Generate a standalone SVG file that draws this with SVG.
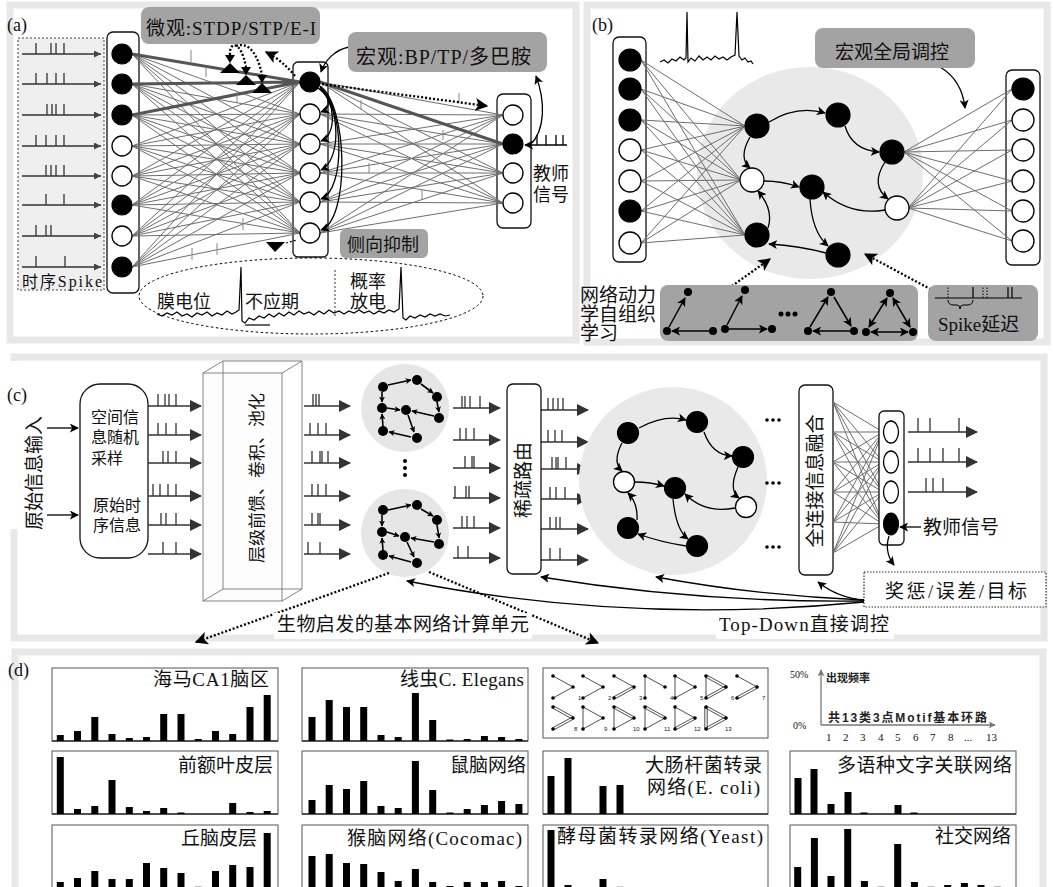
<svg xmlns="http://www.w3.org/2000/svg" width="1053" height="887" viewBox="0 0 1053 887">
<defs>
<style>
.fr{fill:#fff;stroke:#e8e8e8;stroke-width:7}
.bx{fill:#fff;stroke:#111;stroke-width:1.3}
.gb{fill:#a3a3a3}
.cn{stroke:#6e6e6e;stroke-width:1;fill:none}
.ck{stroke:#555;stroke-width:3;fill:none}
.nb{fill:#000;stroke:#000;stroke-width:1.2}
.nw{fill:#fff;stroke:#000;stroke-width:1.3}
.t{font-family:"Liberation Serif","Noto Sans CJK SC",serif;fill:#111}
.s{font-family:"Liberation Sans","Noto Sans CJK SC",sans-serif;fill:#222}
.ar{fill:none;stroke:#000;stroke-width:1.3}
.dt{fill:none;stroke:#000;stroke-width:2.3;stroke-dasharray:2 2}
.sp{stroke:#333;stroke-width:1.3;fill:none}
.tk{stroke:#888;stroke-width:1;fill:none}
.bar{fill:#000}
.ch{fill:#fff;stroke:#555;stroke-width:1}
.mo{stroke:#222;stroke-width:0.8;fill:none}
</style>
<marker id="ah" viewBox="0 0 10 10" refX="9" refY="5" markerWidth="9" markerHeight="9" markerUnits="userSpaceOnUse" orient="auto-start-reverse"><path d="M0,0 L10,5 L0,10 L2.5,5z" fill="#000"/></marker>
<marker id="ahL" viewBox="0 0 10 10" refX="9" refY="5" markerWidth="13" markerHeight="13" markerUnits="userSpaceOnUse" orient="auto"><path d="M0,0 L10,5 L0,10 L2.5,5z" fill="#000"/></marker>
<marker id="ms" viewBox="0 0 10 10" refX="9" refY="5" markerWidth="6" markerHeight="6" markerUnits="userSpaceOnUse" orient="auto"><path d="M0,0 L10,5 L0,10 L2.5,5z" fill="#000"/></marker>
<marker id="sp" viewBox="0 0 12 12" refX="11" refY="6" markerWidth="12" markerHeight="12" markerUnits="userSpaceOnUse" orient="auto"><path d="M0,0 L12,6 L0,12z" fill="#333"/></marker>
<marker id="sa" viewBox="0 0 8 8" refX="8" refY="4" markerWidth="7" markerHeight="7" markerUnits="userSpaceOnUse" orient="auto"><path d="M0,0 L8,4 L0,8z" fill="#444"/></marker>
<marker id="ag" viewBox="0 0 10 10" refX="9" refY="5" markerWidth="7" markerHeight="7" markerUnits="userSpaceOnUse" orient="auto"><path d="M0,0 L10,5 L0,10 L2.5,5z" fill="#777"/></marker>
<path id="e1" d="M0,0 L20,11"/>
<path id="e1d" d="M-0.6,1 L19.4,12 M0.6,-1 L20.6,10"/>
<path id="e2" d="M0,22 L20,11"/>
<path id="e2d" d="M0.6,23 L20.6,12 M-0.6,21 L19.4,10"/>
<path id="e3" d="M0,0 L0,22"/>
<path id="e3d" d="M-1.2,0 L-1.2,22 M1.2,0 L1.2,22"/>
<g id="dots" fill="#000"><circle cx="0" cy="0" r="1.8"/><circle cx="20" cy="11" r="1.8"/><circle cx="0" cy="22" r="1.8"/></g>
</defs>
<rect width="1053" height="887" fill="#fff"/>

<g id="frames">
<rect class="fr" x="10" y="5" width="566" height="335"/>
<rect class="fr" x="587" y="5" width="460" height="337"/>
<rect class="fr" x="14" y="357" width="1030" height="281"/>
<rect class="fr" x="15" y="652" width="1028" height="240"/>
<rect x="9" y="361" width="36" height="168" fill="#fff"/>
</g>

<!-- ================= PANEL A ================= -->
<g id="panel-a">
<text class="t" x="7" y="31" font-size="18">(a)</text>
<g id="a-input-spikes">
<rect x="18" y="38" width="86" height="252" fill="#efefef" stroke="#444" stroke-width="1" stroke-dasharray="2 2"/>
<g class="sp" stroke="#555" stroke-width="1">
<line x1="22" y1="54" x2="101" y2="54" marker-end="url(#sa)"/>
<line x1="22" y1="84" x2="101" y2="84" marker-end="url(#sa)"/>
<line x1="22" y1="115" x2="101" y2="115" marker-end="url(#sa)"/>
<line x1="22" y1="146" x2="101" y2="146" marker-end="url(#sa)"/>
<line x1="22" y1="176" x2="101" y2="176" marker-end="url(#sa)"/>
<line x1="22" y1="205" x2="101" y2="205" marker-end="url(#sa)"/>
<line x1="22" y1="236" x2="101" y2="236" marker-end="url(#sa)"/>
<line x1="22" y1="267" x2="101" y2="267" marker-end="url(#sa)"/>
<path d="M36,54v-11M51,54v-11M56,54v-11M64,54v-11 M36,84v-11M47,84v-11M56,84v-11M64,84v-11 M47,115v-11M52,115v-11M56,115v-11M64,115v-11 M36,146v-11M46,146v-11M56,146v-11M64,146v-11 M46,176v-11M51,176v-11M56,176v-11M64,176v-11 M46,205v-11M64,205v-11 M36,236v-11M46,236v-11M51,236v-11 M36,267v-11M65,267v-11"/>
</g>
<text class="t" x="22" y="287" font-size="16" textLength="80">时序Spike</text>
</g>
<g id="a-boxes">
<rect class="bx" x="107" y="32" width="32" height="261" rx="6"/>
<rect class="bx" x="293" y="62" width="35" height="195" rx="5"/>
<rect class="bx" x="497" y="94" width="34" height="134" rx="6"/>
</g>
<g id="a-connectors">
<path class="cn" d="M132 54L300 82M132 54L300 114M132 54L300 144M132 54L300 173M132 54L300 202M132 54L300 233
M132 84L300 82M132 84L300 114M132 84L300 144M132 84L300 173M132 84L300 202M132 84L300 233
M132 115L300 82M132 115L300 114M132 115L300 144M132 115L300 173M132 115L300 202M132 115L300 233
M132 146L300 82M132 146L300 114M132 146L300 144M132 146L300 173M132 146L300 202M132 146L300 233
M132 176L300 82M132 176L300 114M132 176L300 144M132 176L300 173M132 176L300 202M132 176L300 233
M132 205L300 82M132 205L300 114M132 205L300 144M132 205L300 173M132 205L300 202M132 205L300 233
M132 236L300 82M132 236L300 114M132 236L300 144M132 236L300 173M132 236L300 202M132 236L300 233
M132 267L300 82M132 267L300 114M132 267L300 144M132 267L300 173M132 267L300 202M132 267L300 233
M320 82L503 115M320 82L503 144M320 82L503 173M320 82L503 203
M320 114L503 115M320 114L503 144M320 114L503 173M320 114L503 203
M320 144L503 115M320 144L503 144M320 144L503 173M320 144L503 203
M320 173L503 115M320 173L503 144M320 173L503 173M320 173L503 203
M320 202L503 115M320 202L503 144M320 202L503 173M320 202L503 203
M320 233L503 115M320 233L503 144M320 233L503 173M320 233L503 203"/>
<path class="ck" d="M132 54L300 82M132 84L300 82M132 115L300 82M320 82L503 144"/>
<path class="tk" d="M191,50v12M206,67v10M237,92v10M361,100v10M459,93v10M443,130v10M369,163v10M422,190v10M243,218v12M217,243v12M192,248v12"/>
<!-- synapse bow-ties -->
<g fill="#000">
<polygon points="220,73 240,73 230,63"/><polygon points="225,55 235,55 230,63"/>
<polygon points="236,85 256,85 246,75"/><polygon points="241,67 251,67 246,75"/>
<polygon points="252,93 272,93 262,83"/><polygon points="257,75 267,75 262,83"/>
</g>
<path class="dt" d="M230,55 C229,41 241,40 246,67"/>
<path class="dt" d="M236,46 C249,41 258,55 262,75"/>
<path class="dt" d="M295,76 Q282,60 266,52" marker-end="url(#ahL)"/>
<path class="dt" d="M322,84 L487,106" marker-end="url(#ahL)"/>
<!-- recurrent arcs -->
<path class="ar" d="M318,88 C330,95 332,108 321,112" marker-end="url(#ah)"/>
<path class="ar" d="M319,89 C336,100 337,135 321,141" marker-end="url(#ah)"/>
<path class="ar" d="M320,88 C340,105 342,160 321,170" marker-end="url(#ah)"/>
<path class="ar" d="M320,87 C344,105 346,190 321,199" marker-end="url(#ah)"/>
<path class="ar" d="M320,86 C348,105 350,220 321,230" marker-end="url(#ah)"/>
<path class="ar" d="M349,47 C335,50 325,60 321,72" marker-end="url(#ah)"/>
<path class="ar" d="M530,145 C546,130 545,100 536,76" marker-end="url(#ah)"/>
<!-- teacher spike into output node -->
<line x1="567" y1="145" x2="525" y2="145" class="ar" marker-end="url(#ah)"/>
<path class="ar" d="M537,145v-10M546,145v-10M556,145v-10M563,145v-10"/>
<!-- lateral inhibition -->
<polygon points="266,242 285,242 275,252" fill="#000"/>
<path d="M286,243 L297,240" stroke="#000" stroke-width="1.2" stroke-dasharray="2 2"/>
</g>
<g id="a-nodes">
<circle class="nb" cx="122" cy="54" r="10"/><circle class="nb" cx="122" cy="84" r="10"/><circle class="nb" cx="122" cy="115" r="10"/>
<circle class="nw" cx="122" cy="146" r="10"/><circle class="nw" cx="122" cy="176" r="10"/><circle class="nb" cx="122" cy="205" r="10"/>
<circle class="nw" cx="122" cy="236" r="10"/><circle class="nb" cx="122" cy="267" r="10"/>
<circle class="nb" cx="310" cy="82" r="10"/><circle class="nw" cx="310" cy="114" r="10"/><circle class="nw" cx="310" cy="144" r="10"/>
<circle class="nw" cx="310" cy="173" r="10"/><circle class="nw" cx="310" cy="202" r="10"/><circle class="nw" cx="310" cy="233" r="10"/>
<circle class="nw" cx="513" cy="115" r="10"/><circle class="nb" cx="513" cy="144" r="10"/><circle class="nw" cx="513" cy="173" r="10"/><circle class="nw" cx="513" cy="203" r="10"/>
</g>
<g id="a-labels">
<rect class="gb" x="141" y="7" width="179" height="37" rx="8"/>
<text class="t" x="146" y="35" font-size="19" textLength="170">微观:STDP/STP/E-I</text>
<rect class="gb" x="348" y="32" width="199" height="40" rx="8"/>
<text class="t" x="356" y="64" font-size="20" textLength="175">宏观:BP/TP/多巴胺</text>
<text class="t" x="533" y="180" font-size="18">教师</text>
<text class="t" x="533" y="201" font-size="18">信号</text>
<rect class="gb" x="340" y="229" width="88" height="29" rx="6"/>
<text class="t" x="347" y="251" font-size="18">侧向抑制</text>
</g>
<g id="a-membrane">
<ellipse cx="311" cy="296" rx="172" ry="38" fill="none" stroke="#000" stroke-width="1" stroke-dasharray="2.5 2.5"/>
<line x1="335" y1="270" x2="335" y2="317" stroke="#333" stroke-width="1" stroke-dasharray="2 2"/>
<text class="t" x="157" y="308" font-size="18">膜电位</text>
<text class="t" x="245" y="308" font-size="18">不应期</text>
<text class="t" x="350" y="288" font-size="18">概率</text>
<text class="t" x="350" y="308" font-size="18">放电</text>
<polyline fill="none" stroke="#000" stroke-width="1.2" points="157,314 162,316 167,313 172,315 177,312 182,316 187,314 192,317 197,313 202,315 207,312 212,316 217,313 222,315 227,311 232,314 236,312 239,310 241,267 242,321 245,323 249,318 254,320 259,316 264,318 269,314 274,317 279,313 284,316 289,312 294,315 299,311 304,314 309,312 314,315 319,311 324,314 329,310 334,313 339,311 344,314 349,311 354,313 359,310 364,313 369,311 374,314 379,311 384,313 389,310 394,312 399,309 401,267 403,318 406,320 410,316 415,318 420,315 425,317 430,314 435,316 440,314 445,316 450,315"/>
<line x1="245" y1="325" x2="270" y2="325" stroke="#000" stroke-width="1.2"/>
</g>
</g>

<!-- ================= PANEL B ================= -->
<g id="panel-b">
<text class="t" x="592" y="31" font-size="18">(b)</text>
<polyline fill="none" stroke="#000" stroke-width="1.2" points="660,62 664,60 668,63 672,59 676,61 680,57 684,60 686,58 687,12 688,62 691,58 695,61 699,56 703,60 707,57 711,60 715,56 719,59 723,57 727,60 731,57 735,55 737,12 739,56 742,60 745,58 748,62 751,61 753,64"/>
<ellipse cx="810" cy="173" rx="113" ry="106" fill="#e9e9e9"/>
<rect class="bx" x="613" y="37" width="33" height="225" rx="6"/>
<rect class="bx" x="1006" y="70" width="34" height="195" rx="6"/>
<g id="b-connectors">
<path class="cn" d="M641 60L745 126M641 60L741 180M641 60L745 235
M641 89L745 126M641 89L741 180M641 89L745 235
M641 120L745 126M641 120L741 180M641 120L745 235
M641 150L745 126M641 150L741 180M641 150L745 235
M641 181L745 126M641 181L741 180M641 181L745 235
M641 211L745 126M641 211L741 180M641 211L745 235
M641 243L745 126M641 243L741 180M641 243L745 235
M904 152L1012 89M904 152L1012 120M904 152L1012 150M904 152L1012 181M904 152L1012 211M904 152L1012 241
M908 208L1012 89M908 208L1012 120M908 208L1012 150M908 208L1012 181M908 208L1012 211M908 208L1012 241"/>
<path class="ar" d="M769,122 Q797,105 825,113" marker-end="url(#ah)"/>
<path class="ar" d="M845,126 Q852,150 879,152" marker-end="url(#ah)"/>
<path class="ar" d="M885,162 Q870,185 888,199" marker-end="url(#ah)"/>
<path class="ar" d="M750,137 Q738,158 750,168" marker-end="url(#ah)"/>
<path class="ar" d="M764,181 Q782,181 799,187" marker-end="url(#ah)"/>
<path class="ar" d="M885,210 Q850,216 823,192" marker-end="url(#ah)"/>
<path class="ar" d="M768,228 Q774,210 758,191" marker-end="url(#ah)"/>
<path class="ar" d="M810,199 Q812,232 828,246" marker-end="url(#ah)"/>
<path class="ar" d="M826,253 Q800,246 769,244" marker-end="url(#ah)"/>
<path class="ar" d="M940,67 Q962,80 965,108" marker-end="url(#ah)"/>
<path class="dt" d="M722,293 L770,259" marker-end="url(#ahL)"/>
<path class="dt" d="M945,297 L865,254" marker-end="url(#ahL)"/>
</g>
<g id="b-nodes">
<circle class="nb" cx="630" cy="60" r="11"/><circle class="nb" cx="630" cy="89" r="11"/><circle class="nb" cx="630" cy="120" r="11"/>
<circle class="nw" cx="630" cy="150" r="11"/><circle class="nw" cx="630" cy="181" r="11"/><circle class="nb" cx="630" cy="211" r="11"/><circle class="nw" cx="630" cy="243" r="11"/>
<circle class="nb" cx="1023" cy="89" r="11"/><circle class="nw" cx="1023" cy="120" r="11"/><circle class="nw" cx="1023" cy="150" r="11"/>
<circle class="nw" cx="1023" cy="181" r="11"/><circle class="nw" cx="1023" cy="211" r="11"/><circle class="nw" cx="1023" cy="241" r="11"/>
<circle class="nb" cx="757" cy="126" r="12"/><circle class="nb" cx="838" cy="115" r="12"/><circle class="nb" cx="892" cy="152" r="12"/>
<circle class="nw" cx="752" cy="180" r="12"/><circle class="nb" cx="812" cy="187" r="12"/><circle class="nw" cx="897" cy="208" r="12"/>
<circle class="nb" cx="757" cy="235" r="12"/><circle class="nb" cx="838" cy="255" r="12"/>
</g>
<g id="b-labels">
<rect class="gb" x="815" y="28" width="160" height="40" rx="8"/>
<text class="t" x="835" y="59" font-size="19">宏观全局调控</text>
<text class="t" x="580" y="302" font-size="19">网络动力</text>
<text class="t" x="580" y="321" font-size="19">学自组织</text>
<text class="t" x="580" y="340" font-size="19">学习</text>
</g>
<g id="b-motifs">
<rect class="gb" x="660" y="285" width="258" height="56" rx="8"/>
<g stroke="#000" stroke-width="1.5" fill="none">
<path d="M669,327 L685,298" marker-end="url(#ah)"/><path d="M709,331 L672,331" marker-end="url(#ah)"/>
<path d="M727,325 L742,296" marker-end="url(#ah)"/><path d="M729,329 L767,329" marker-end="url(#ah)"/>
<path d="M810,327 L828,297" marker-end="url(#ah)"/><path d="M834,297 L851,326" marker-end="url(#ah)"/><path d="M850,331 L813,331" marker-end="url(#ah)"/>
<path d="M869,327 L887,298" marker-start="url(#ah)" marker-end="url(#ah)"/><path d="M893,298 L910,327" marker-start="url(#ah)" marker-end="url(#ah)"/><path d="M871,332 L908,332" marker-start="url(#ah)" marker-end="url(#ah)"/>
</g>
<g fill="#000">
<circle cx="688" cy="292" r="4"/><circle cx="667" cy="331" r="4"/><circle cx="713" cy="331" r="4"/>
<circle cx="745" cy="290" r="4"/><circle cx="725" cy="329" r="4"/><circle cx="772" cy="329" r="4"/>
<circle cx="781" cy="314" r="2.5"/><circle cx="788" cy="314" r="2.5"/><circle cx="795" cy="314" r="2.5"/>
<circle cx="831" cy="292" r="4"/><circle cx="808" cy="331" r="4"/><circle cx="854" cy="331" r="4"/>
<circle cx="890" cy="293" r="4"/><circle cx="866" cy="332" r="4"/><circle cx="913" cy="332" r="4"/>
</g>
<rect class="gb" x="928" y="285" width="110" height="56" rx="8"/>
<path d="M935,298 H1022 M973,298v-11 M1008,298v-11 M1012,298v-11" stroke="#000" stroke-width="1.2" fill="none"/>
<path d="M948,298v-11 M983,298v-11 M987,298v-11" stroke="#000" stroke-width="1" stroke-dasharray="1.5 1.5" fill="none"/>
<path d="M948,300 Q948,305 954,305 L957,305 Q960,305 960,309 Q960,305 963,305 L967,305 Q973,305 973,300" stroke="#000" stroke-width="1" fill="none"/>
<text class="t" x="938" y="331" font-size="19">Spike延迟</text>
</g>
</g>

<!-- ================= PANEL C ================= -->
<g id="panel-c">
<text class="t" x="7" y="401" font-size="18">(c)</text>
<text class="t" transform="translate(35,473) rotate(-90)" y="6" text-anchor="middle" font-size="19">原始信息输入</text>
<line x1="47" y1="428" x2="78" y2="428" class="ar" stroke-width="1.6" marker-end="url(#ah)"/>
<line x1="47" y1="515" x2="78" y2="515" class="ar" stroke-width="1.6" marker-end="url(#ah)"/>
<g id="c-sampling">
<rect class="bx" x="80" y="384" width="68" height="174" rx="20"/>
<text class="t" x="91" y="423" font-size="16">空间信</text>
<text class="t" x="91" y="443" font-size="16">息随机</text>
<text class="t" x="91" y="464" font-size="16">采样</text>
<text class="t" x="93" y="511" font-size="16">原始时</text>
<text class="t" x="93" y="531" font-size="16">序信息</text>
</g>
<g id="c-spikes">
<g class="sp">
<line x1="148" y1="406" x2="201" y2="406" marker-end="url(#sp)"/><line x1="148" y1="435" x2="201" y2="435" marker-end="url(#sp)"/><line x1="148" y1="463" x2="201" y2="463" marker-end="url(#sp)"/>
<line x1="148" y1="496" x2="201" y2="496" marker-end="url(#sp)"/><line x1="148" y1="525" x2="201" y2="525" marker-end="url(#sp)"/><line x1="148" y1="554" x2="201" y2="554" marker-end="url(#sp)"/>
<path d="M158,406v-12M165,406v-12M169,406v-12M176,406v-12 M158,435v-12M166,435v-12M176,435v-12 M163,463v-12M168,463v-12M176,463v-12 M153,496v-12M160,496v-12M168,496v-12M176,496v-12 M161,525v-12M166,525v-12M176,525v-12 M163,554v-12M176,554v-12"/>
<line x1="304" y1="406" x2="350" y2="406" marker-end="url(#sp)"/><line x1="304" y1="435" x2="350" y2="435" marker-end="url(#sp)"/><line x1="304" y1="463" x2="350" y2="463" marker-end="url(#sp)"/>
<line x1="304" y1="496" x2="350" y2="496" marker-end="url(#sp)"/><line x1="304" y1="525" x2="350" y2="525" marker-end="url(#sp)"/><line x1="304" y1="554" x2="350" y2="554" marker-end="url(#sp)"/>
<path d="M313,406v-12M316,406v-12M319,406v-12 M310,435v-12M318,435v-12M326,435v-12 M312,463v-12M320,463v-12M322,463v-12M328,463v-12 M312,496v-12M318,496v-12M326,496v-12 M312,525v-12M318,525v-12M320,525v-12 M308,554v-12M320,554v-12"/>
<line x1="453" y1="408" x2="500" y2="408" marker-end="url(#sp)"/><line x1="453" y1="440" x2="500" y2="440" marker-end="url(#sp)"/><line x1="453" y1="468" x2="500" y2="468" marker-end="url(#sp)"/>
<line x1="453" y1="498" x2="500" y2="498" marker-end="url(#sp)"/><line x1="453" y1="528" x2="500" y2="528" marker-end="url(#sp)"/><line x1="453" y1="558" x2="500" y2="558" marker-end="url(#sp)"/>
<path d="M462,408v-12M465,408v-12M470,408v-12M480,408v-12 M460,440v-12M466,440v-12M474,440v-12 M465,468v-12M472,468v-12M474,468v-12 M455,498v-12M466,498v-12M469,498v-12 M462,528v-12M467,528v-12M474,528v-12 M458,558v-12M468,558v-12"/>
<line x1="541" y1="410" x2="588" y2="410" marker-end="url(#sp)"/><line x1="541" y1="442" x2="588" y2="442" marker-end="url(#sp)"/><line x1="541" y1="469" x2="588" y2="469" marker-end="url(#sp)"/>
<line x1="541" y1="499" x2="588" y2="499" marker-end="url(#sp)"/><line x1="541" y1="529" x2="588" y2="529" marker-end="url(#sp)"/><line x1="541" y1="560" x2="588" y2="560" marker-end="url(#sp)"/>
<path d="M548,410v-12M553,410v-12M558,410v-12M563,410v-12 M548,442v-12M555,442v-12M562,442v-12 M552,469v-12M556,469v-12M558,469v-12M566,469v-12 M550,499v-12M556,499v-12M565,499v-12 M550,529v-12M556,529v-12M560,529v-12 M550,560v-12M560,560v-12"/>
<line x1="908" y1="432" x2="977" y2="432" marker-end="url(#sp)"/><line x1="908" y1="462" x2="977" y2="462" marker-end="url(#sp)"/><line x1="908" y1="492" x2="977" y2="492" marker-end="url(#sp)"/>
<path d="M918,432v-14M930,432v-14M959,432v-14 M918,462v-14M930,462v-14M943,462v-14M959,462v-14 M926,492v-14M933,492v-14M943,492v-14"/>
</g>
</g>
<g id="c-hierarchy">
<rect x="203" y="373" width="79" height="228" fill="#fcfcfc" fill-opacity="0.6" stroke="#777" stroke-width="0.9"/>
<path d="M223,361 H302 V589 H223 Z M203,373 L223,361 M282,373 L302,361 M282,601 L302,589 M203,601 L223,589" fill="none" stroke="#777" stroke-width="0.9"/>
<text class="t" transform="translate(257,478) rotate(-90)" y="6" text-anchor="middle" font-size="17">层级前馈、卷积、池化</text>
</g>
<g id="c-modules">
<circle cx="405" cy="408" r="44" fill="#e6e6e6"/>
<circle cx="405" cy="533" r="44" fill="#e6e6e6"/>
<g fill="#000"><circle cx="405" cy="461" r="2"/><circle cx="405" cy="468" r="2"/><circle cx="405" cy="475" r="2"/></g>
<g stroke="#000" stroke-width="1.6" fill="none">
<path d="M388,385 L411,380" marker-end="url(#ms)"/><path d="M421,384 L433,393" marker-end="url(#ms)"/><path d="M437,402 L439,412" marker-end="url(#ms)"/>
<path d="M382,392 L382,402" marker-end="url(#ms)"/><path d="M387,408 L400,410" marker-end="url(#ms)"/><path d="M434,416 L412,411" marker-end="url(#ms)"/>
<path d="M383,426 L382,414" marker-end="url(#ms)"/><path d="M408,415 L414,432" marker-end="url(#ms)"/><path d="M411,437 L389,432" marker-end="url(#ms)"/>
<path d="M388,510 L411,505" marker-end="url(#ms)"/><path d="M421,509 L433,516" marker-end="url(#ms)"/><path d="M437,525 L439,538" marker-end="url(#ms)"/>
<path d="M382,515 L382,526" marker-end="url(#ms)"/><path d="M387,532 L399,536" marker-end="url(#ms)"/><path d="M434,542 L411,538" marker-end="url(#ms)"/>
<path d="M383,550 L382,538" marker-end="url(#ms)"/><path d="M407,542 L414,557" marker-end="url(#ms)"/><path d="M411,562 L389,556" marker-end="url(#ms)"/>
</g>
<g fill="#000">
<circle cx="383" cy="387" r="5"/><circle cx="417" cy="380" r="5"/><circle cx="437" cy="397" r="5"/><circle cx="382" cy="408" r="5"/>
<circle cx="406" cy="410" r="5"/><circle cx="439" cy="418" r="5"/><circle cx="383" cy="431" r="5"/><circle cx="417" cy="438" r="5"/>
<circle cx="383" cy="510" r="5"/><circle cx="417" cy="505" r="5"/><circle cx="437" cy="520" r="5"/><circle cx="382" cy="532" r="5"/>
<circle cx="405" cy="537" r="5"/><circle cx="439" cy="544" r="5"/><circle cx="383" cy="555" r="5"/><circle cx="417" cy="563" r="5"/>
</g>
</g>
<g id="c-sparse">
<rect class="bx" x="507" y="384" width="34" height="190" rx="6"/>
<text class="t" transform="translate(524,480) rotate(-90)" y="6" text-anchor="middle" font-size="19">稀疏路由</text>
</g>
<g id="c-circle">
<circle cx="673" cy="481" r="94" fill="#e9e9e9"/>
<g class="ar">
<path d="M639,428 Q665,414 686,420" marker-end="url(#ah)"/>
<path d="M704,432 Q712,455 732,456" marker-end="url(#ah)"/>
<path d="M738,467 Q728,490 739,498" marker-end="url(#ah)"/>
<path d="M622,443 Q612,462 622,471" marker-end="url(#ah)"/>
<path d="M635,482 Q650,482 664,486" marker-end="url(#ah)"/>
<path d="M735,508 Q705,514 685,494" marker-end="url(#ah)"/>
<path d="M637,520 Q638,503 628,493" marker-end="url(#ah)"/>
<path d="M673,499 Q676,530 688,539" marker-end="url(#ah)"/>
<path d="M686,546 Q660,542 638,534" marker-end="url(#ah)"/>
</g>
<circle class="nb" cx="628" cy="433" r="10.5"/><circle class="nb" cx="697" cy="422" r="10.5"/><circle class="nb" cx="743" cy="457" r="10.5"/>
<circle class="nw" cx="624" cy="482" r="10.5"/><circle class="nb" cx="675" cy="488" r="10.5"/><circle class="nw" cx="746" cy="507" r="10.5"/>
<circle class="nb" cx="628" cy="528" r="10.5"/><circle class="nb" cx="697" cy="546" r="10.5"/>
<g fill="#000"><circle cx="767" cy="420" r="1.8"/><circle cx="773" cy="420" r="1.8"/><circle cx="779" cy="420" r="1.8"/>
<circle cx="767" cy="483" r="1.8"/><circle cx="773" cy="483" r="1.8"/><circle cx="779" cy="483" r="1.8"/>
<circle cx="767" cy="547" r="1.8"/><circle cx="773" cy="547" r="1.8"/><circle cx="779" cy="547" r="1.8"/></g>
</g>
<g id="c-fusion">
<rect class="bx" x="799" y="385" width="34" height="190" rx="6"/>
<text class="t" transform="translate(816,481) rotate(-90)" y="6" text-anchor="middle" font-size="19">全连接信息融合</text>
<path class="cn" d="M833 402L883 432M833 402L883 462M833 402L883 492M833 402L883 524
M833 432L883 432M833 432L883 462M833 432L883 492M833 432L883 524
M833 462L883 432M833 462L883 462M833 462L883 492M833 462L883 524
M833 492L883 432M833 492L883 462M833 492L883 492M833 492L883 524
M833 522L883 432M833 522L883 462M833 522L883 492M833 522L883 524
M833 553L883 432M833 553L883 462M833 553L883 492M833 553L883 524"/>
</g>
<g id="c-output">
<rect class="bx" x="879" y="411" width="25" height="134" rx="5"/>
<ellipse class="nw" cx="891" cy="432" rx="7.5" ry="11"/><ellipse class="nw" cx="891" cy="462" rx="7.5" ry="11"/>
<ellipse class="nw" cx="891" cy="492" rx="7.5" ry="11"/><ellipse class="nb" cx="891" cy="524" rx="7.5" ry="11"/>
<line x1="921" y1="527" x2="900" y2="527" class="ar" stroke-width="1.6" marker-end="url(#ah)"/>
<text class="t" x="923" y="534" font-size="19">教师信号</text>
<path class="ar" d="M889,536 Q884,552 894,565" marker-end="url(#ah)"/>
</g>
<g id="c-reward">
<rect x="864" y="572" width="182" height="35" fill="#fff" stroke="#333" stroke-width="1.2" stroke-dasharray="1.5 1.5"/>
<text class="t" x="885" y="598" font-size="19" textLength="142">奖惩/误差/目标</text>
</g>
<g id="c-topdown">
<path class="ar" d="M864,600 Q838,598 818,582" marker-end="url(#ah)"/>
<path class="ar" d="M864,600 Q760,596 656,577" marker-end="url(#ah)"/>
<path class="ar" d="M864,601 Q700,603 541,577" marker-end="url(#ah)"/>
<path class="ar" d="M864,602 Q630,625 407,581" marker-end="url(#ah)"/>
<path class="dt" d="M389,573 L196,642" marker-end="url(#ahL)"/>
<path class="dt" d="M429,572 L598,643" marker-end="url(#ahL)"/>
<rect x="274" y="613" width="258" height="26" fill="#fff"/>
<text class="t" x="277" y="631" font-size="19" textLength="252">生物启发的基本网络计算单元</text>
<rect x="716" y="612" width="178" height="27" fill="#fff"/>
<text class="t" x="719" y="631" font-size="19" textLength="170">Top-Down直接调控</text>
</g>
</g>

<!-- ================= PANEL D ================= -->
<g id="panel-d">
<text class="t" x="8" y="676" font-size="18">(d)</text>
<g id="d-charts">
<rect class="ch" x="52" y="668" width="226" height="73"/>
<rect class="ch" x="302" y="668" width="226" height="73"/>
<rect class="ch" x="52" y="751" width="226" height="63"/>
<rect class="ch" x="302" y="751" width="226" height="63"/>
<rect class="ch" x="543" y="751" width="225" height="63"/>
<rect class="ch" x="790" y="751" width="226" height="63"/>
<rect class="ch" x="52" y="825" width="226" height="70"/>
<rect class="ch" x="302" y="825" width="226" height="70"/>
<rect class="ch" x="543" y="825" width="225" height="70"/>
<rect class="ch" x="790" y="825" width="226" height="70"/>
<path d="M52,741H278M302,741H528M52,814H278M302,814H528M543,814H768M790,814H1016" stroke="#333" stroke-width="1.5"/>
<text class="t" x="153" y="686" font-size="19" textLength="116">海马CA1脑区</text>
<text class="t" x="400" y="686" font-size="19" textLength="124">线虫C. Elegans</text>
<text class="t" x="178" y="772" font-size="19">前额叶皮层</text>
<text class="t" x="450" y="772" font-size="19">鼠脑网络</text>
<text class="t" x="181" y="845" font-size="19">丘脑皮层</text>
<text class="t" x="347" y="845" font-size="19" textLength="175">猴脑网络(Cocomac)</text>
<text class="t" x="645" y="772" font-size="19" textLength="117">大肠杆菌转录</text>
<text class="t" x="647" y="794" font-size="19" textLength="113">网络(E. coli)</text>
<text class="t" x="837" y="772" font-size="19" textLength="175">多语种文字关联网络</text>
<text class="t" x="557" y="843" font-size="19" textLength="206">酵母菌转录网络(Yeast)</text>
<text class="t" x="935" y="843" font-size="19">社交网络</text>
</g>
<g id="d-bars" class="bar">
<!-- row1 col1 base 741 -->
<rect x="56.8" y="735" width="7" height="6"/><rect x="74" y="731" width="7" height="10"/><rect x="91.3" y="717" width="7" height="24"/>
<rect x="108.5" y="734" width="7" height="7"/><rect x="125.8" y="738" width="7" height="3"/><rect x="143" y="737" width="7" height="4"/>
<rect x="160.2" y="714" width="7" height="27"/><rect x="177.5" y="714" width="7" height="27"/><rect x="194.7" y="739" width="7" height="2"/>
<rect x="212" y="731" width="7" height="10"/><rect x="229.2" y="734" width="7" height="7"/><rect x="246.5" y="707" width="7" height="34"/><rect x="263.7" y="695" width="7" height="46"/>
<!-- row1 col2 -->
<rect x="308.5" y="717" width="7" height="24"/><rect x="325.7" y="700" width="7" height="41"/><rect x="343" y="707" width="7" height="34"/>
<rect x="360.2" y="707" width="7" height="34"/><rect x="377.5" y="735" width="7" height="6"/><rect x="394.7" y="737" width="7" height="4"/>
<rect x="411.9" y="693" width="7" height="48"/><rect x="429.2" y="720" width="7" height="21"/><rect x="446.4" y="739.5" width="7" height="1.5"/>
<rect x="463.7" y="739" width="7" height="2"/><rect x="480.9" y="736" width="7" height="5"/><rect x="498.1" y="737" width="7" height="4"/><rect x="515.4" y="739" width="7" height="2"/>
<!-- row2 col1 base 814 -->
<rect x="56.8" y="757" width="7" height="57"/><rect x="74" y="809" width="7" height="5"/><rect x="91.3" y="806" width="7" height="8"/>
<rect x="108.5" y="780" width="7" height="34"/><rect x="125.8" y="807" width="7" height="7"/><rect x="143" y="811" width="7" height="3"/>
<rect x="160.2" y="808" width="7" height="6"/><rect x="177.5" y="812.5" width="7" height="1.5"/>
<rect x="229.2" y="803" width="7" height="11"/><rect x="246.5" y="812" width="7" height="2"/><rect x="263.7" y="811" width="7" height="3"/>
<!-- row2 col2 -->
<rect x="308.5" y="800" width="7" height="14"/><rect x="325.7" y="785" width="7" height="29"/><rect x="343" y="789" width="7" height="25"/>
<rect x="360.2" y="781" width="7" height="33"/><rect x="377.5" y="806" width="7" height="8"/><rect x="394.7" y="808" width="7" height="6"/>
<rect x="411.9" y="761" width="7" height="53"/><rect x="429.2" y="790" width="7" height="24"/><rect x="446.4" y="812.5" width="7" height="1.5"/>
<rect x="463.7" y="809" width="7" height="5"/><rect x="480.9" y="805" width="7" height="9"/><rect x="498.1" y="801" width="7" height="13"/><rect x="515.4" y="804" width="7" height="10"/>
<!-- row3 col1 -->
<rect x="56.8" y="882" width="7" height="10"/><rect x="74" y="878" width="7" height="14"/><rect x="91.3" y="871" width="7" height="21"/>
<rect x="108.5" y="879" width="7" height="13"/><rect x="125.8" y="879" width="7" height="13"/><rect x="143" y="863" width="7" height="29"/>
<rect x="160.2" y="868" width="7" height="24"/><rect x="177.5" y="873" width="7" height="19"/><rect x="194.7" y="886" width="7" height="6" fill="#bbb"/>
<rect x="212" y="871" width="7" height="21"/><rect x="229.2" y="865" width="7" height="27"/><rect x="246.5" y="867" width="7" height="25"/><rect x="263.7" y="833" width="7" height="59"/>
<!-- row3 col2 -->
<rect x="308.5" y="856" width="7" height="36"/><rect x="325.7" y="854" width="7" height="38"/><rect x="343" y="863" width="7" height="29"/>
<rect x="360.2" y="864" width="7" height="28"/><rect x="377.5" y="872" width="7" height="20"/><rect x="394.7" y="881" width="7" height="11"/>
<rect x="411.9" y="869" width="7" height="23"/><rect x="429.2" y="882" width="7" height="10"/><rect x="446.4" y="886" width="7" height="6"/>
<rect x="463.7" y="882" width="7" height="10"/><rect x="480.9" y="882" width="7" height="10"/><rect x="498.1" y="881" width="7" height="11"/><rect x="515.4" y="886" width="7" height="6"/>
<!-- E. coli -->
<rect x="547.5" y="776" width="7" height="38"/><rect x="564.5" y="758" width="7" height="56"/><rect x="599.5" y="786" width="7" height="28"/><rect x="616.5" y="785" width="7" height="29"/>
<!-- multilingual -->
<rect x="794.5" y="778" width="7" height="36"/><rect x="810.5" y="769" width="7" height="45"/><rect x="827.5" y="804" width="7" height="10"/>
<rect x="844.5" y="792" width="7" height="22"/><rect x="860.5" y="812.5" width="7" height="1.5"/><rect x="894.5" y="805" width="7" height="9"/><rect x="910.5" y="812.5" width="7" height="1.5"/>
<!-- yeast -->
<rect x="547.5" y="830" width="7" height="62"/><rect x="564.5" y="885" width="7" height="7"/><rect x="599.5" y="879" width="7" height="13"/><rect x="616.5" y="886" width="7" height="6" fill="#ccc"/>
<!-- social -->
<rect x="794.2" y="867" width="7" height="25"/><rect x="810.9" y="838" width="7" height="54"/><rect x="827.5" y="876" width="7" height="16"/>
<rect x="844.2" y="829" width="7" height="63"/><rect x="860.9" y="881" width="7" height="11"/><rect x="877.5" y="886" width="7" height="6" fill="#bbb"/>
<rect x="894.2" y="844" width="7" height="48"/><rect x="910.9" y="882" width="7" height="10"/><rect x="927.5" y="886" width="7" height="6" fill="#bbb"/>
<rect x="944.2" y="885" width="7" height="7"/><rect x="960.9" y="883" width="7" height="9"/><rect x="977.5" y="885" width="7" height="7"/><rect x="994.2" y="886" width="7" height="6" fill="#bbb"/>
</g>
<g id="d-motif-legend">
<rect class="ch" x="543" y="668" width="225" height="70"/>
<g class="mo">
<g transform="translate(553,676)"><use href="#e1"/><use href="#e2"/></g>
<g transform="translate(583,676)"><use href="#e1"/><use href="#e2"/></g>
<g transform="translate(614,676)"><use href="#e1"/><use href="#e2d"/></g>
<g transform="translate(645,676)"><use href="#e3"/><use href="#e1"/></g>
<g transform="translate(675,676)"><use href="#e3"/><use href="#e1"/><use href="#e2"/></g>
<g transform="translate(706,676)"><use href="#e3"/><use href="#e1d"/><use href="#e2d"/></g>
<g transform="translate(737,676)"><use href="#e1"/><use href="#e2d"/></g>
<g transform="translate(553,707)"><use href="#e1d"/><use href="#e2d"/></g>
<g transform="translate(583,707)"><use href="#e1"/><use href="#e2"/><use href="#e3"/></g>
<g transform="translate(614,707)"><use href="#e1d"/><use href="#e2"/><use href="#e3"/></g>
<g transform="translate(645,707)"><use href="#e1d"/><use href="#e2"/><use href="#e3"/></g>
<g transform="translate(675,707)"><use href="#e1"/><use href="#e2d"/><use href="#e3"/></g>
<g transform="translate(706,707)"><use href="#e1d"/><use href="#e2d"/><use href="#e3d"/></g>
</g>
<g>
<use href="#dots" x="553" y="676"/><use href="#dots" x="583" y="676"/><use href="#dots" x="614" y="676"/><use href="#dots" x="645" y="676"/>
<use href="#dots" x="675" y="676"/><use href="#dots" x="706" y="676"/><use href="#dots" x="737" y="676"/>
<use href="#dots" x="553" y="707"/><use href="#dots" x="583" y="707"/><use href="#dots" x="614" y="707"/><use href="#dots" x="645" y="707"/>
<use href="#dots" x="675" y="707"/><use href="#dots" x="706" y="707"/>
</g>
<g class="s" font-size="6">
<text x="578" y="700">1</text><text x="608" y="700">2</text><text x="639" y="700">3</text><text x="670" y="700">4</text><text x="700" y="700">5</text><text x="731" y="700">6</text><text x="762" y="700">7</text>
<text x="574" y="731">8</text><text x="604" y="731">9</text><text x="633" y="731">10</text><text x="664" y="731">11</text><text x="694" y="731">12</text><text x="725" y="731">13</text>
</g>
</g>
<g id="d-axis">
<line x1="821" y1="725" x2="821" y2="670" stroke="#777" stroke-width="1.3" marker-end="url(#ag)"/>
<line x1="821" y1="725" x2="995" y2="725" stroke="#777" stroke-width="1.3" marker-end="url(#ag)"/>
<text class="t" x="790" y="678" font-size="10">50%</text>
<text class="t" x="793" y="729" font-size="10">0%</text>
<text class="s" x="826" y="682" font-size="11" font-weight="bold">出现频率</text>
<text class="s" x="828" y="722" font-size="12" font-weight="bold" textLength="159">共13类3点Motif基本环路</text>
<g class="t" font-size="11">
<text x="826" y="741">1</text><text x="843" y="741">2</text><text x="860" y="741">3</text><text x="878" y="741">4</text><text x="895" y="741">5</text><text x="913" y="741">6</text><text x="930" y="741">7</text><text x="948" y="741">8</text><text x="964" y="741">...</text><text x="986" y="741">13</text>
</g>
</g>
</g>
</svg>
